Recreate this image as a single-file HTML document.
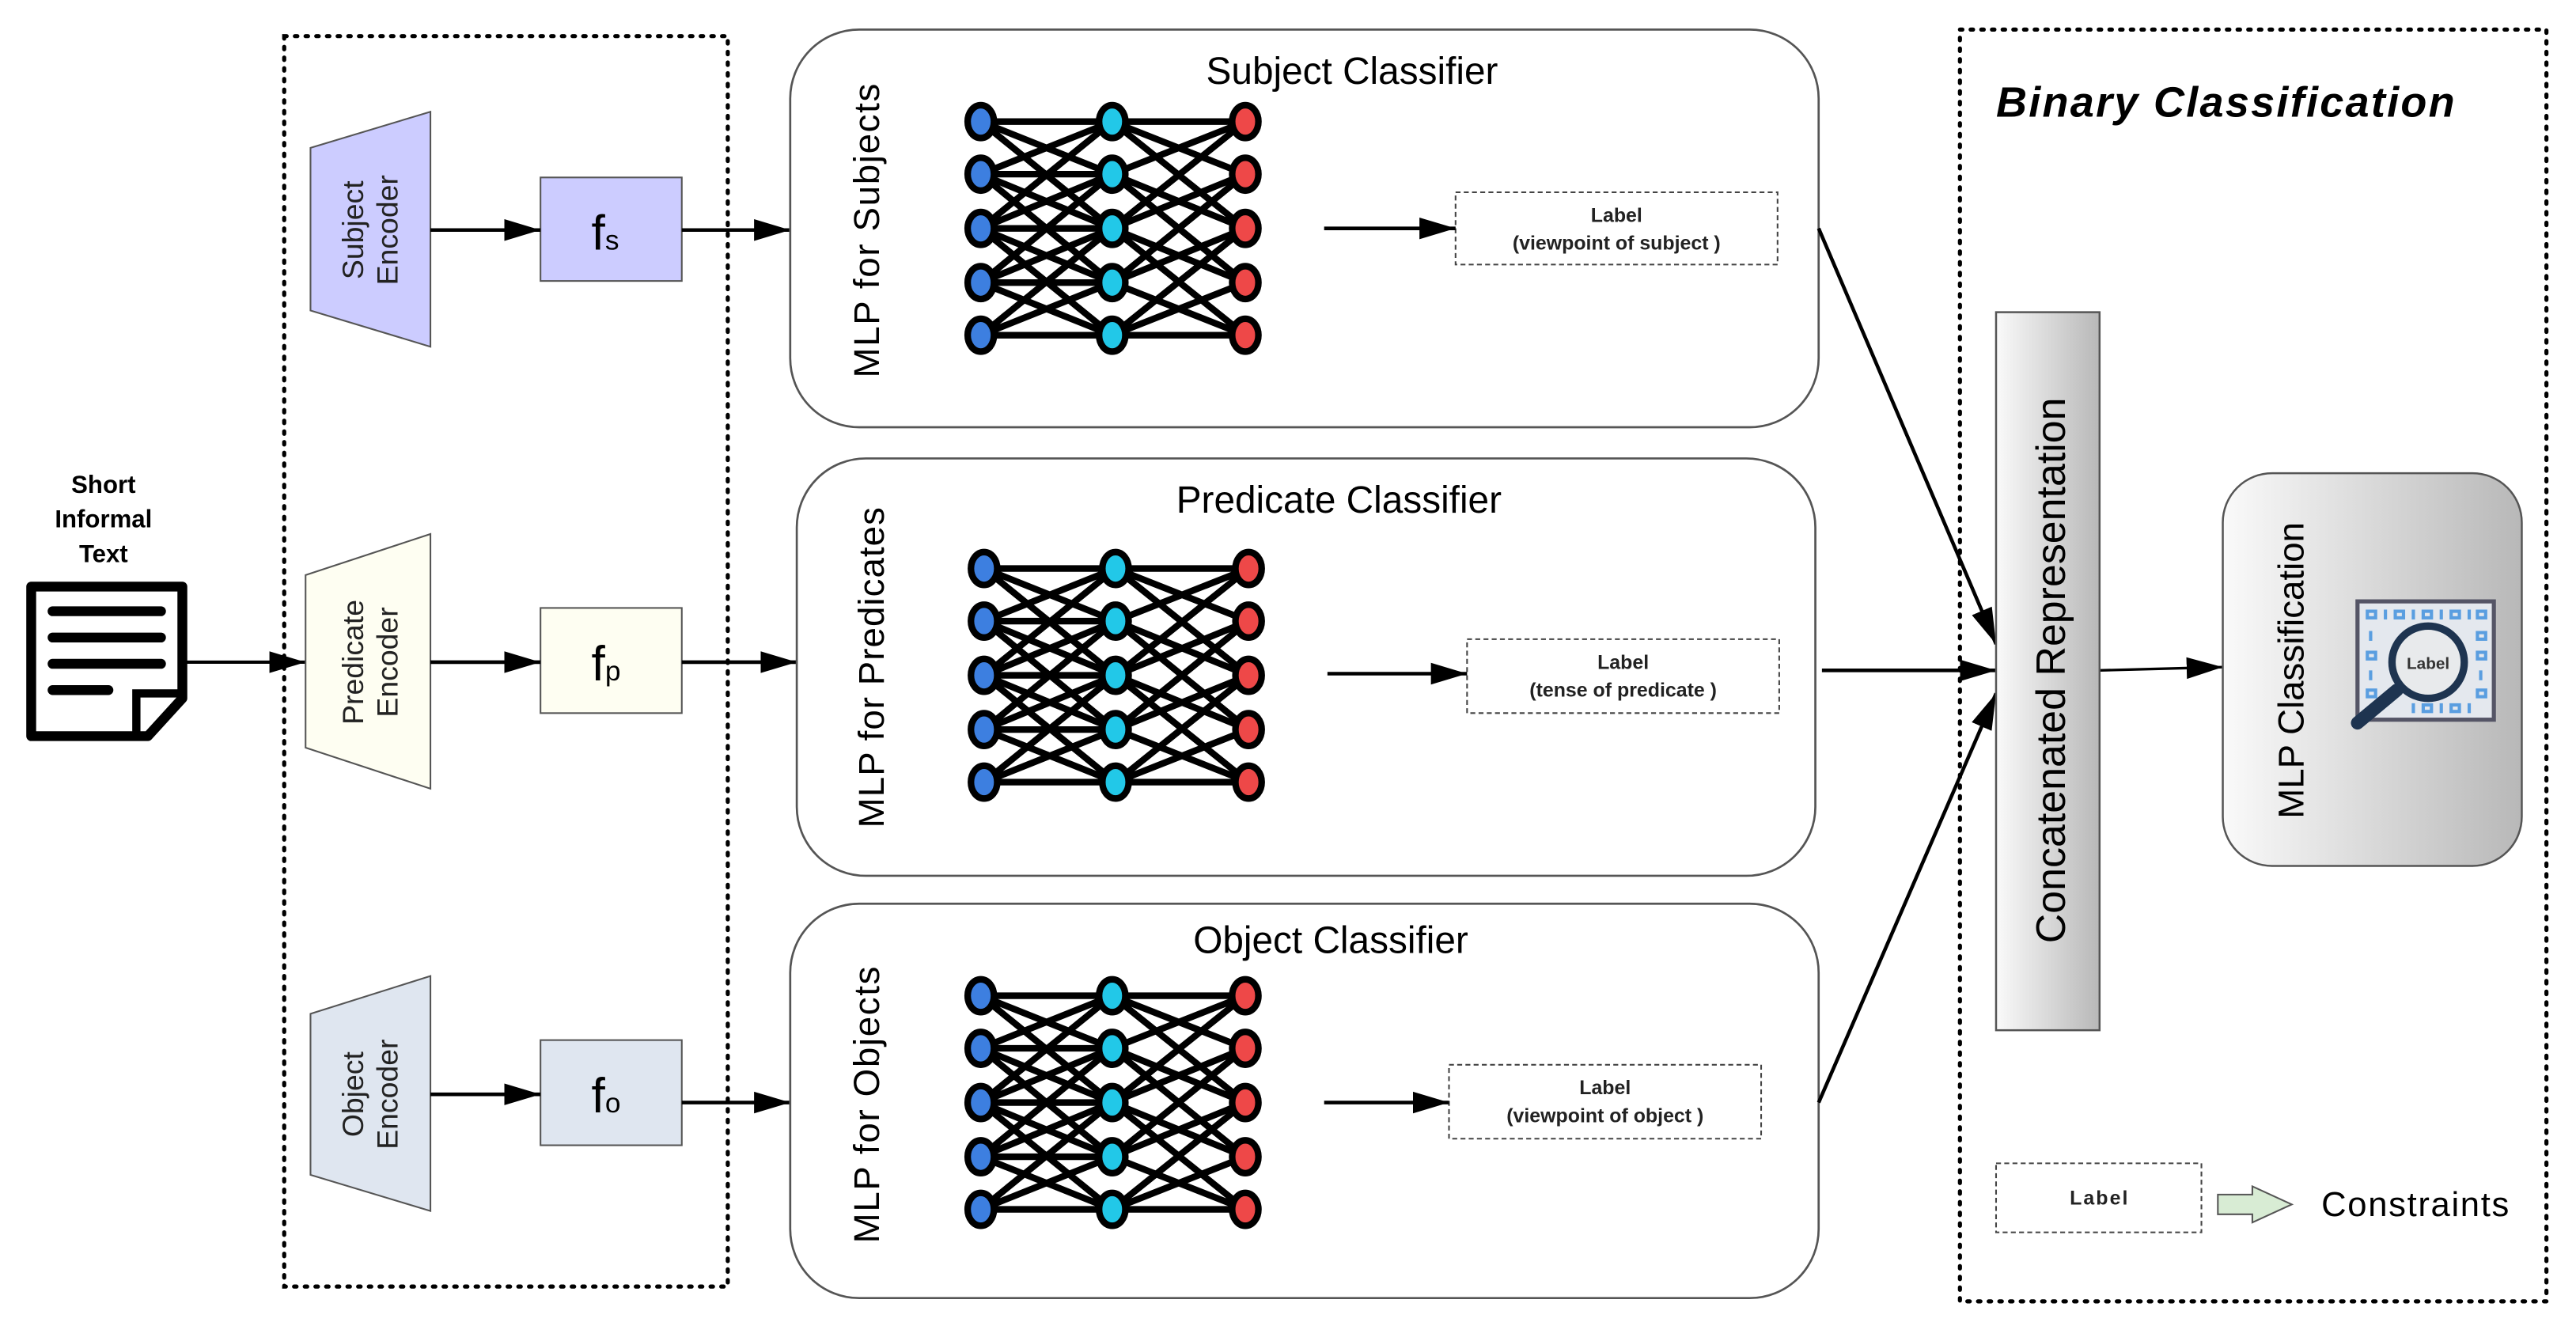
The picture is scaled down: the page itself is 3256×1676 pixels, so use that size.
<!DOCTYPE html>
<html><head><meta charset="utf-8">
<style>html,body{margin:0;padding:0;background:#fff}svg{display:block}</style>
</head><body>
<svg width="3256" height="1676" viewBox="0 0 1568 807" preserveAspectRatio="none" xmlns="http://www.w3.org/2000/svg" font-family="Liberation Sans, sans-serif">
<defs>
<marker id="ar2" viewBox="0 0 10 10" refX="10" refY="5" markerWidth="22" markerHeight="22" markerUnits="userSpaceOnUse" orient="auto"><path d="M0,2 L10,5 L0,8 z" fill="#000"/></marker>
<linearGradient id="g1" x1="0" x2="1" y1="0" y2="0"><stop offset="0" stop-color="#fafafa"/><stop offset="1" stop-color="#b8b8b8"/></linearGradient>
</defs>
<rect x="173" y="22" width="270" height="761" fill="none" stroke="#000" stroke-width="2.5" stroke-dasharray="1.5 5" stroke-linecap="round"/>
<rect x="1193" y="18" width="357" height="774" fill="none" stroke="#000" stroke-width="2.5" stroke-dasharray="1.5 5" stroke-linecap="round"/>

<g font-weight="bold" font-size="15" text-anchor="middle">
<text x="63" y="300">Short</text><text x="63" y="321">Informal</text><text x="63" y="342">Text</text>
</g>
<path d="M19,357 H111 V425 L90,448 H19 Z" fill="#fff" stroke="#000" stroke-width="6" stroke-linejoin="round"/>
<path d="M83,448 V422 H111" fill="none" stroke="#000" stroke-width="5"/>
<g stroke="#000" stroke-width="6" stroke-linecap="round">
<line x1="32" y1="372" x2="98" y2="372"/><line x1="32" y1="388" x2="98" y2="388"/><line x1="32" y1="404" x2="98" y2="404"/><line x1="32" y1="420" x2="66" y2="420"/>
</g>
<line x1="111" y1="403" x2="186" y2="403" stroke="#000" stroke-width="2" marker-end="url(#ar2)"/>

<polygon points="189,90 262,68 262,211 189,189" fill="#ccccff" stroke="#555" stroke-width="1"/>
<polygon points="186,350 262,325 262,480 186,455" fill="#fefef2" stroke="#555" stroke-width="1"/>
<polygon points="189,617 262,594 262,737 189,715" fill="#dfe6f0" stroke="#555" stroke-width="1"/>
<g font-size="18" text-anchor="middle" fill="#222">
<text transform="translate(225,140) rotate(-90)"><tspan x="0" y="-4">Subject</tspan><tspan x="0" y="17">Encoder</tspan></text>
<text transform="translate(225,403) rotate(-90)"><tspan x="0" y="-4">Predicate</tspan><tspan x="0" y="17">Encoder</tspan></text>
<text transform="translate(225,666) rotate(-90)"><tspan x="0" y="-4">Object</tspan><tspan x="0" y="17">Encoder</tspan></text>
</g>
<rect x="329" y="108" width="86" height="63" fill="#ccccff" stroke="#555"/>
<rect x="329" y="370" width="86" height="64" fill="#fefef2" stroke="#555"/>
<rect x="329" y="633" width="86" height="64" fill="#dfe6f0" stroke="#555"/>
<g font-size="30"><text x="360" y="152">f<tspan font-size="17">s</tspan></text>
<text x="360" y="414">f<tspan font-size="17">p</tspan></text>
<text x="360" y="677">f<tspan font-size="17">o</tspan></text></g>
<g stroke="#000" stroke-width="2.2" marker-end="url(#ar2)">
<line x1="262" y1="140" x2="329" y2="140"/><line x1="262" y1="403" x2="329" y2="403"/><line x1="262" y1="666" x2="329" y2="666"/>
<line x1="415" y1="140" x2="481" y2="140"/><line x1="415" y1="403" x2="485" y2="403"/><line x1="415" y1="671" x2="481" y2="671"/>
</g>

<rect x="481" y="18" width="626" height="242" rx="42" fill="#fff" stroke="#555" stroke-width="1.3"/>
<rect x="485" y="279" width="620" height="254" rx="42" fill="#fff" stroke="#555" stroke-width="1.3"/>
<rect x="481" y="550" width="626" height="240" rx="42" fill="#fff" stroke="#555" stroke-width="1.3"/>
<g font-size="23" text-anchor="middle">
<text x="823" y="51">Subject Classifier</text>
<text x="815" y="312">Predicate Classifier</text>
<text x="810" y="580">Object Classifier</text>
</g>
<g font-size="22" text-anchor="middle">
<text transform="translate(535,140) rotate(-90)" letter-spacing="0.8">MLP for Subjects</text>
<text transform="translate(538,406) rotate(-90)" letter-spacing="0.5">MLP for Predicates</text>
<text transform="translate(535,672) rotate(-90)" letter-spacing="0.8">MLP for Objects</text>
</g>

<g fill="#fff" stroke="#444" stroke-width="1" stroke-dasharray="3 2">
<rect x="886" y="117" width="196" height="44"/>
<rect x="893" y="389" width="190" height="45"/>
<rect x="882" y="648" width="190" height="45"/>
</g>
<g font-size="12" text-anchor="middle" font-weight="bold" fill="#222">
<text x="984" y="135">Label</text><text x="984" y="152">(viewpoint of subject )</text>
<text x="988" y="407">Label</text><text x="988" y="424">(tense of predicate )</text>
<text x="977" y="666">Label</text><text x="977" y="683">(viewpoint of object )</text>
</g>
<g stroke="#000" stroke-width="2.2" marker-end="url(#ar2)">
<line x1="806" y1="139" x2="886" y2="139"/><line x1="808" y1="410" x2="893" y2="410"/><line x1="806" y1="671" x2="882" y2="671"/>
<line x1="1107" y1="139" x2="1215" y2="392"/><line x1="1109" y1="408" x2="1215" y2="408"/><line x1="1107" y1="671" x2="1215" y2="422"/>
<line x1="1278" y1="408" x2="1353" y2="406" stroke-width="1.6"/>
</g>

<text x="1215" y="71" font-size="26" font-weight="bold" font-style="italic" letter-spacing="1.1">Binary Classification</text>
<rect x="1215" y="190" width="63" height="437" fill="url(#g1)" stroke="#555" stroke-width="1.2"/>
<text transform="translate(1257,408) rotate(-90)" font-size="25" text-anchor="middle">Concatenated Representation</text>
<rect x="1353" y="288" width="182" height="239" rx="30" fill="url(#g1)" stroke="#555" stroke-width="1.2"/>
<text transform="translate(1402,408) rotate(-90)" font-size="22" text-anchor="middle">MLP Classification</text>
<rect x="1435" y="366" width="83" height="72" fill="#e4e8ee" stroke="#556" stroke-width="2.5"/>
<g fill="none" stroke="#5a9ee0" stroke-width="2">
<rect x="1441" y="372" width="5" height="4"/><line x1="1452" y1="371" x2="1452" y2="377"/><rect x="1458" y="372" width="5" height="4"/><line x1="1469" y1="371" x2="1469" y2="377"/><rect x="1475" y="372" width="5" height="4"/><line x1="1486" y1="371" x2="1486" y2="377"/><rect x="1492" y="372" width="5" height="4"/><line x1="1503" y1="371" x2="1503" y2="377"/><rect x="1508" y="372" width="5" height="4"/>
<line x1="1443" y1="384" x2="1443" y2="390"/><rect x="1508" y="385" width="5" height="4"/><rect x="1441" y="397" width="5" height="4"/><rect x="1508" y="397" width="5" height="4"/><line x1="1443" y1="408" x2="1443" y2="414"/><line x1="1510" y1="408" x2="1510" y2="414"/><rect x="1441" y="420" width="5" height="4"/><rect x="1508" y="420" width="5" height="4"/>
<line x1="1469" y1="428" x2="1469" y2="434"/><rect x="1475" y="429" width="5" height="4"/><line x1="1486" y1="428" x2="1486" y2="434"/><rect x="1492" y="429" width="5" height="4"/><line x1="1503" y1="428" x2="1503" y2="434"/>
</g>
<circle cx="1478" cy="403" r="22" fill="#e8eaec" stroke="#1e3450" stroke-width="4.5"/>
<text x="1478" y="407" font-size="10" font-weight="bold" text-anchor="middle" fill="#333">Label</text>
<line x1="1459" y1="420" x2="1435" y2="440" stroke="#1e3450" stroke-width="8" stroke-linecap="round"/>
<rect x="1215" y="708" width="125" height="42" fill="#fff" stroke="#444" stroke-dasharray="3 2"/>
<text x="1278" y="733" font-size="12" font-weight="bold" text-anchor="middle" fill="#222" letter-spacing="1">Label</text>
<polygon points="1350,727 1371,727 1371,722 1395,733 1371,744 1371,739 1350,739" fill="#d8ecd4" stroke="#555" stroke-width="1"/>
<text x="1413" y="740" font-size="21" letter-spacing="0.8">Constraints</text>

<g id="edges"><path stroke="#000" stroke-width="4" fill="none" d="
M597,74 L677,74 M597,74 L677,106 M597,74 L677,139
M597,106 L677,74 M597,106 L677,106 M597,106 L677,139 M597,106 L677,172
M597,139 L677,74 M597,139 L677,106 M597,139 L677,139 M597,139 L677,172 M597,139 L677,204
M597,172 L677,106 M597,172 L677,139 M597,172 L677,172 M597,172 L677,204
M597,204 L677,139 M597,204 L677,172 M597,204 L677,204
M677,74 L758,74 M677,74 L758,106 M677,74 L758,139
M677,106 L758,74 M677,106 L758,139 M677,106 L758,172
M677,139 L758,74 M677,139 L758,106 M677,139 L758,172 M677,139 L758,204
M677,172 L758,106 M677,172 L758,139 M677,172 L758,204
M677,204 L758,139 M677,204 L758,172 M677,204 L758,204
"/></g>
<use href="#edges" transform="translate(2,272)"/>
<use href="#edges" transform="translate(0,532)"/>
<g id="nodes" stroke="#000" stroke-width="4">
<g fill="#3d7fe0">
<ellipse cx="597" cy="74" rx="8" ry="10"/><ellipse cx="597" cy="106" rx="8" ry="10"/><ellipse cx="597" cy="139" rx="8" ry="10"/><ellipse cx="597" cy="172" rx="8" ry="10"/><ellipse cx="597" cy="204" rx="8" ry="10"/>
</g>
<g fill="#22c8e8">
<ellipse cx="677" cy="74" rx="8" ry="10"/><ellipse cx="677" cy="106" rx="8" ry="10"/><ellipse cx="677" cy="139" rx="8" ry="10"/><ellipse cx="677" cy="172" rx="8" ry="10"/><ellipse cx="677" cy="204" rx="8" ry="10"/>
</g>
<g fill="#ee4848">
<ellipse cx="758" cy="74" rx="8" ry="10"/><ellipse cx="758" cy="106" rx="8" ry="10"/><ellipse cx="758" cy="139" rx="8" ry="10"/><ellipse cx="758" cy="172" rx="8" ry="10"/><ellipse cx="758" cy="204" rx="8" ry="10"/>
</g>
</g>
<use href="#nodes" transform="translate(2,272)"/>
<use href="#nodes" transform="translate(0,532)"/>
</svg>
</body></html>
